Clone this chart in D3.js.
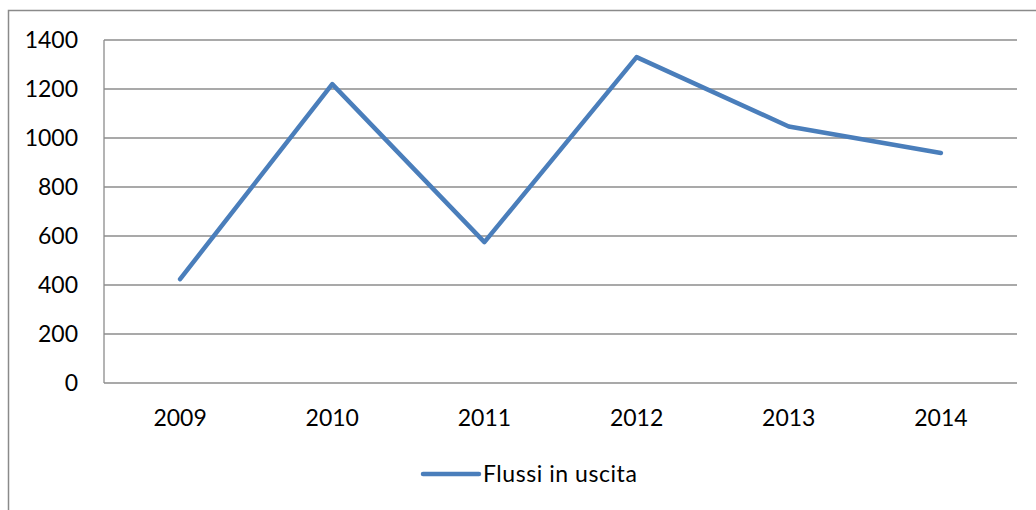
<!DOCTYPE html>
<html>
<head>
<meta charset="utf-8">
<script src="https://cdn.jsdelivr.net/npm/d3@7"></script>
<style>
  body { margin: 0; background: #fff; }
  svg { display: block; }
  text { font-family: Lato, "Open Sans", sans-serif; fill: #000; }
</style>
</head>
<body>
<div id="chart"></div>
<script>
// Data
const years = ["2009", "2010", "2011", "2012", "2013", "2014"];
const values = [424, 1220, 575, 1330, 1047, 939];
const yTicks = [0, 200, 400, 600, 800, 1000, 1200, 1400];
const seriesName = "Flussi in uscita";

// Config
const W = 1036, H = 510;
const plot = { left: 104, right: 1017, top: 40, bottom: 383 };
const lineColor = "#4a7ebb";
const gridColor = "#8c8c8c";
const fontSize = "23px";

const svg = d3.select("#chart").append("svg")
    .attr("width", W)
    .attr("height", H);

// outer frame
svg.append("rect")
    .attr("x", 8.5).attr("y", 10.5)
    .attr("width", W + 10).attr("height", H + 10)
    .attr("fill", "none")
    .attr("stroke", "#8a8a8a")
    .attr("stroke-width", 1.5);

const x = d3.scaleBand()
    .domain(years)
    .range([plot.left, plot.right]);

const y = d3.scaleLinear()
    .domain([0, 1400])
    .range([plot.bottom, plot.top]);

// gridlines
svg.append("g")
    .selectAll("line")
    .data(yTicks)
    .join("line")
    .attr("x1", plot.left).attr("x2", plot.right)
    .attr("y1", d => y(d)).attr("y2", d => y(d))
    .attr("stroke", gridColor)
    .attr("stroke-width", 1.3);

// y axis line
svg.append("line")
    .attr("x1", plot.left).attr("x2", plot.left)
    .attr("y1", plot.top).attr("y2", plot.bottom)
    .attr("stroke", gridColor)
    .attr("stroke-width", 1.3);

// y labels
svg.append("g")
    .selectAll("text")
    .data(yTicks)
    .join("text")
    .attr("x", 78)
    .attr("y", d => y(d))
    .attr("dy", "0.36em")
    .attr("text-anchor", "end")
    .style("font-size", fontSize)
    .text(d => d);

// x labels
svg.append("g")
    .selectAll("text")
    .data(years)
    .join("text")
    .attr("x", d => x(d) + x.bandwidth() / 2)
    .attr("y", 418)
    .attr("dy", "0.36em")
    .attr("text-anchor", "middle")
    .style("font-size", fontSize)
    .text(d => d);

// series line
const line = d3.line()
    .x((d, i) => x(years[i]) + x.bandwidth() / 2)
    .y(d => y(d));

svg.append("path")
    .datum(values)
    .attr("d", line)
    .attr("fill", "none")
    .attr("stroke", lineColor)
    .attr("stroke-width", 4.5)
    .attr("stroke-linejoin", "round")
    .attr("stroke-linecap", "round");

// legend
const legend = svg.append("g").attr("transform", "translate(423, 474)");
legend.append("line")
    .attr("x1", 0).attr("x2", 56)
    .attr("stroke", lineColor)
    .attr("stroke-width", 4.5)
    .attr("stroke-linecap", "round");
legend.append("text")
    .attr("x", 60)
    .attr("dy", "0.36em")
    .style("font-size", fontSize)
    .style("letter-spacing", "0.55px")
    .text(seriesName);
</script>
</body>
</html>
